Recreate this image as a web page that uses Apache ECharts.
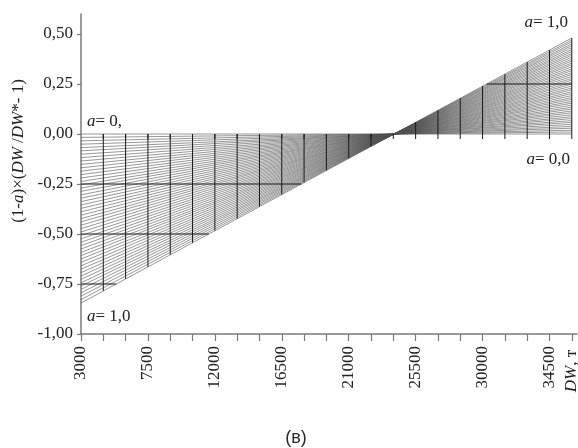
<!DOCTYPE html>
<html>
<head>
<meta charset="utf-8">
<script src="https://cdn.jsdelivr.net/npm/echarts@6/dist/echarts.min.js"></script>
<style>html,body{margin:0;padding:0;background:#fff;}#c{width:578px;height:448px;}</style>
</head>
<body>
<div id="c"></div>
<script>
// DW range of the lines
const dwStart = 3000;
const dwEnd = 36000;
// value of each line (a = 0.00 ... 1.00, step 0.02) at DW = 3000
const leftEnd = [0, -0.017, -0.034, -0.051, -0.068, -0.084, -0.101, -0.118, -0.135, -0.152,
  -0.169, -0.186, -0.203, -0.220, -0.237, -0.254, -0.270, -0.287, -0.304, -0.321,
  -0.338, -0.355, -0.372, -0.389, -0.406, -0.423, -0.439, -0.456, -0.473, -0.490,
  -0.507, -0.524, -0.541, -0.558, -0.575, -0.592, -0.608, -0.625, -0.642, -0.659,
  -0.676, -0.693, -0.710, -0.727, -0.744, -0.760, -0.777, -0.794, -0.811, -0.828, -0.845];
// value of each line at DW = 36000
const rightEnd = [0, 0.010, 0.019, 0.029, 0.038, 0.048, 0.058, 0.067, 0.077, 0.086,
  0.096, 0.106, 0.115, 0.125, 0.134, 0.144, 0.154, 0.163, 0.173, 0.182,
  0.192, 0.202, 0.211, 0.221, 0.230, 0.240, 0.250, 0.259, 0.269, 0.278,
  0.288, 0.298, 0.307, 0.317, 0.326, 0.336, 0.346, 0.355, 0.365, 0.374,
  0.384, 0.394, 0.403, 0.413, 0.422, 0.432, 0.442, 0.451, 0.461, 0.470, 0.480];
// tick labels
const xLabels = [3000, 7500, 12000, 16500, 21000, 25500, 30000, 34500];
const yLabels = [-1, -0.75, -0.5, -0.25, 0, 0.25, 0.5];
const gridLevels = [-0.75, -0.5, -0.25, 0.25];

const xMinor = [];
for (let v = 3000; v <= 36000; v += 1500) xMinor.push(v);
const gridX = xMinor.filter(v => v > 3000);

const L = leftEnd[leftEnd.length - 1], R = rightEnd[rightEnd.length - 1];
function outerY(x) { return L + (R - L) * (x - dwStart) / (dwEnd - dwStart); }
function outerX(y) { return dwStart + (y - L) / (R - L) * (dwEnd - dwStart); }

const serif = '"Liberation Serif", "DejaVu Serif", serif';
const series = [];
for (let k = 0; k < leftEnd.length; k++) {
  series.push({
    type: 'line', silent: true, symbol: 'none', animation: false, z: 2,
    lineStyle: { color: '#505050', width: 0.6 },
    data: [[dwStart, leftEnd[k]], [dwEnd, rightEnd[k]]]
  });
}
const gridStyle = { stroke: '#1a1a1a', lineWidth: 1 };
series.push({
  type: 'custom', silent: true, animation: false, z: 3,
  data: gridX.map(v => [v]),
  renderItem: function (params, api) {
    const x = api.value(0);
    const p0 = api.coord([x, 0]);
    const p1 = api.coord([x, outerY(x)]);
    return { type: 'group', children: [
      { type: 'line', shape: { x1: p0[0], y1: p0[1], x2: p1[0], y2: p1[1] }, style: gridStyle },
      { type: 'line', shape: { x1: p0[0], y1: p0[1], x2: p0[0], y2: p0[1] + 5 }, style: gridStyle }
    ] };
  }
});
series.push({
  type: 'custom', silent: true, animation: false, z: 3,
  data: gridLevels.map(v => [v]),
  renderItem: function (params, api) {
    const y = api.value(0);
    const xa = y < 0 ? dwStart : outerX(y);
    const xb = y < 0 ? outerX(y) : dwEnd;
    const p0 = api.coord([xa, y]);
    const p1 = api.coord([xb, y]);
    return { type: 'line', shape: { x1: p0[0], y1: p0[1], x2: p1[0], y2: p1[1] }, style: gridStyle };
  }
});

const rich = {
  i: { fontFamily: serif, fontStyle: 'italic', fontSize: 17, color: '#222' },
  n: { fontFamily: serif, fontSize: 17, color: '#222' }
};
function label(x, y, txt, align) {
  return { type: 'text', x: x, y: y, silent: true,
    style: { text: txt, rich: rich, align: align || 'left', verticalAlign: 'middle', font: '17px ' + serif, fill: '#222' } };
}

const chart = echarts.init(document.getElementById('c'), null, { renderer: 'canvas' });
chart.setOption({
  animation: false,
  backgroundColor: '#fff',
  grid: { left: 81, right: 1, top: 14, bottom: 114, containLabel: false },
  xAxis: {
    type: 'value', min: 3000, max: 36350,
    splitLine: { show: false },
    axisLine: { onZero: false, lineStyle: { color: '#7a7a7a', width: 1.5 } },
    axisTick: { customValues: xMinor, length: 7, lineStyle: { color: '#7a7a7a', width: 1.2 } },
    axisLabel: { customValues: xLabels, rotate: 90, margin: 12, color: '#222', fontSize: 17, fontFamily: serif,
      formatter: v => String(v) }
  },
  yAxis: {
    type: 'value', min: -1, max: 0.6,
    splitLine: { show: false },
    axisLine: { lineStyle: { color: '#7a7a7a', width: 1.5 } },
    axisTick: { customValues: yLabels, length: 4, lineStyle: { color: '#7a7a7a', width: 1.2 } },
    axisLabel: { customValues: yLabels, margin: 8, color: '#222', fontSize: 17, fontFamily: serif,
      formatter: v => v.toFixed(2).replace('.', ',') }
  },
  series: series,
  graphic: [
    label(87, 122, '{i|a}{n|= 0,}'),
    label(87, 317, '{i|a}{n|= 1,0}'),
    label(568, 23, '{i|a}{n|= 1,0}', 'right'),
    label(570, 160, '{i|a}{n|= 0,0}', 'right'),
    { type: 'text', x: 19, y: 151, rotation: Math.PI / 2, silent: true,
      style: { text: '{n|(1-}{i|a}{n|)×(}{i|DW}{n| /}{i|DW}{n|*- 1)}', rich: rich, align: 'center', verticalAlign: 'middle', font: '17px ' + serif, fill: '#222' } },
    { type: 'text', x: 572, y: 371, rotation: Math.PI / 2, silent: true,
      style: { text: '{i|DW}{n|, т}', rich: rich, align: 'center', verticalAlign: 'middle', font: '17px ' + serif, fill: '#222' } },
    { type: 'text', x: 296, y: 438, silent: true,
      style: { text: '(в)', align: 'center', verticalAlign: 'middle', font: '18px "Liberation Sans", "DejaVu Sans", sans-serif', fill: '#2a2a2a' } }
  ]
});
</script>
</body>
</html>
